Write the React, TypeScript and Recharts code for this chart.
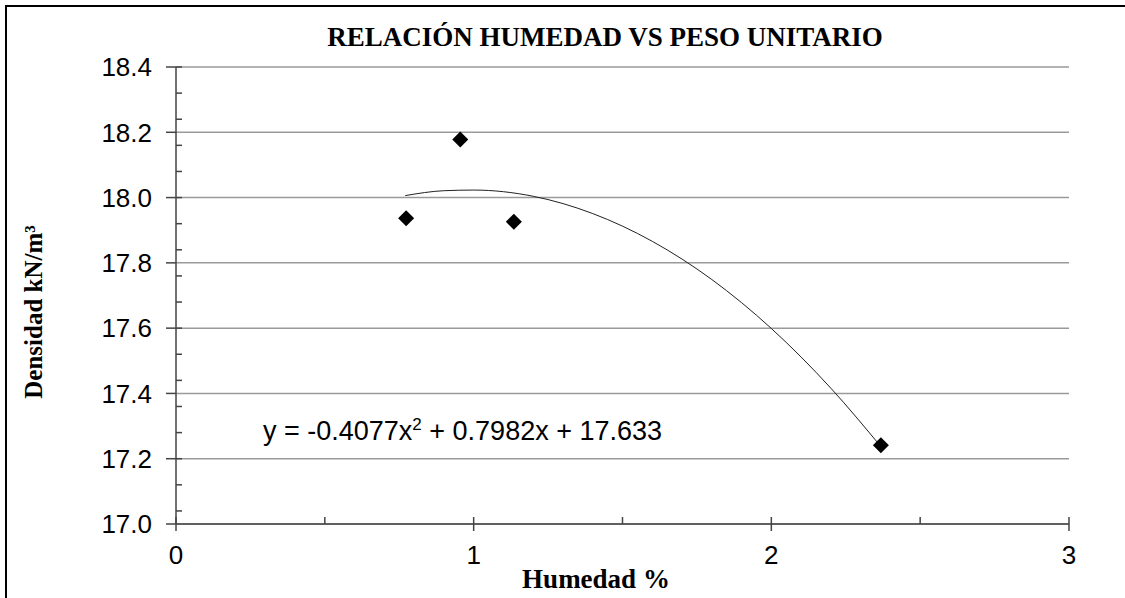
import React from 'react'
import { ComposedChart, Scatter, Line, XAxis, YAxis, CartesianGrid } from 'recharts';

// measured points (humedad %, densidad kN/m3)
const humedad = [0.773, 0.955, 1.135, 2.368];
const densidad = [17.937, 18.178, 17.926, 17.241];

// trend curve
const trendX = [0.77, 0.9, 1.0, 1.2, 1.4, 1.6, 1.8, 2.0, 2.2, 2.37];
const trendY = [18.006, 18.021, 18.023, 18.004, 17.951, 17.866, 17.749, 17.599, 17.416, 17.235];

const xTicks = [0, 1, 2, 3];
const xMinorTicks = [0, 0.5, 1, 1.5, 2, 2.5, 3];
const yTicks = [17.0, 17.2, 17.4, 17.6, 17.8, 18.0, 18.2, 18.4];
const yMinorTicks = [
    17.0, 17.04, 17.08, 17.12, 17.16, 17.2, 17.24, 17.28, 17.32, 17.36, 17.4,
    17.44, 17.48, 17.52, 17.56, 17.6, 17.64, 17.68, 17.72, 17.76, 17.8,
    17.84, 17.88, 17.92, 17.96, 18.0, 18.04, 18.08, 18.12, 18.16, 18.2,
    18.24, 18.28, 18.32, 18.36, 18.4,
];

const points = humedad.map((x, i) => ({ x, y: densidad[i] }));
const trend = trendX.map((x, i) => ({ x, y: trendY[i] }));

const Diamond = (props: any) => {
    const { cx, cy } = props;
    const r = 8;
    return (
        <polygon
            points={`${cx},${cy - r} ${cx + r},${cy} ${cx},${cy + r} ${cx - r},${cy}`}
            fill="#000"
        />
    );
};

const NoLabel = () => <g />;

const tickFont = { fontFamily: 'Liberation Sans, Arial, sans-serif', fontSize: 26, fill: '#000' };
const serifBold = { fontFamily: 'Liberation Serif, Times New Roman, serif', fontWeight: 'bold' as const, fontSize: 27, fill: '#000' };

const App = () => {
    return (
        <div style={{ position: 'absolute', left: 0, top: 0, width: 1125, height: 598, background: '#fff' }}>
            <ComposedChart
                width={1125}
                height={598}
                margin={{ top: 67, right: 56, left: 0, bottom: 0 }}
            >
                <CartesianGrid xAxisId="main" yAxisId="main" vertical={false} stroke="#9a9a9a" strokeWidth={1.5} />
                <XAxis
                    xAxisId="main"
                    type="number"
                    dataKey="x"
                    domain={[0, 3]}
                    ticks={xTicks}
                    height={74}
                    tickSize={7}
                    tickMargin={15}
                    stroke="#444"
                    strokeWidth={1.5}
                    tick={tickFont}
                    allowDataOverflow
                />
                <XAxis
                    xAxisId="minor"
                    type="number"
                    dataKey="x"
                    domain={[0, 3]}
                    ticks={xMinorTicks}
                    mirror
                    height={1}
                    tickSize={7}
                    axisLine={false}
                    tick={<NoLabel />}
                    tickLine={{ stroke: '#444', strokeWidth: 1.5 }}
                    stroke="#444"
                    allowDataOverflow
                />
                <YAxis
                    yAxisId="main"
                    type="number"
                    domain={[17, 18.4]}
                    ticks={yTicks}
                    width={176}
                    tickSize={10}
                    tickMargin={14}
                    stroke="#444"
                    strokeWidth={1.5}
                    tick={tickFont}
                    tickFormatter={(v: number) => v.toFixed(1)}
                    allowDataOverflow
                />
                <YAxis
                    yAxisId="minor"
                    type="number"
                    domain={[17, 18.4]}
                    ticks={yMinorTicks}
                    mirror
                    width={1}
                    tickSize={6}
                    axisLine={false}
                    tick={<NoLabel />}
                    tickLine={{ stroke: '#444', strokeWidth: 1.5 }}
                    stroke="#444"
                    allowDataOverflow
                />
                <Line
                    xAxisId="main"
                    yAxisId="main"
                    data={trend}
                    dataKey="y"
                    type="monotone"
                    stroke="#222"
                    strokeWidth={1}
                    dot={false}
                    isAnimationActive={false}
                />
                <Scatter
                    xAxisId="main"
                    yAxisId="main"
                    data={points}
                    dataKey="y"
                    shape={<Diamond />}
                    isAnimationActive={false}
                />
            </ComposedChart>
            <svg width={1125} height={598} style={{ position: 'absolute', left: 0, top: 0, pointerEvents: 'none' }}>
                <path d="M6,598 L6,6 L1125,6" fill="none" stroke="#000" strokeWidth={2} />
                <text x={605} y={46} textAnchor="middle" {...serifBold}>RELACIÓN HUMEDAD VS PESO UNITARIO</text>
                <text x={596} y={588} textAnchor="middle" {...serifBold}>Humedad %</text>
                <text x={42} y={312} textAnchor="middle" transform="rotate(-90, 42, 312)" {...serifBold} fontSize={25}>
                    Densidad kN/m³
                </text>
                <text x={263} y={440} {...tickFont} fontSize={27}>
                    y = -0.4077x<tspan dy={-10} fontSize={17}>2</tspan><tspan dy={10}> + 0.7982x + 17.633</tspan>
                </text>
            </svg>
        </div>
    );
}

export default App
